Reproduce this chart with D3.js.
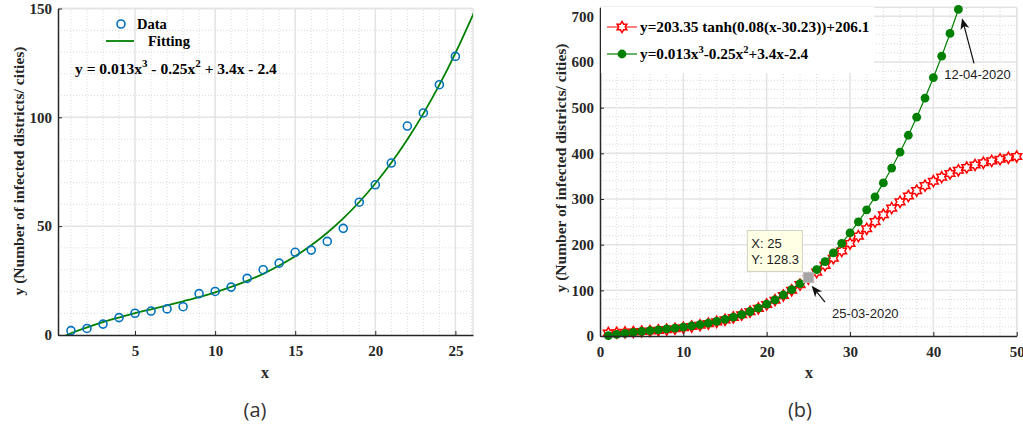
<!DOCTYPE html>
<html><head><meta charset="utf-8">
<script src="https://cdn.jsdelivr.net/npm/d3@7"></script>
<style>
html,body{margin:0;padding:0;background:#fff;}
svg{display:block;}
</style></head>
<body>
<script>
// ---------- DATA ----------
const daysA = [1,2,3,4,5,6,7,8,9,10,11,12,13,14,15,16,17,18,19,20,21,22,23,24,25];
const casesA = [2,3,5,8,10,11,12,13,19,20,22,26,30,33,38,39,43,49,61,69,79,96,102,115,128];
const fitXA = [0.5,1,2,3,4,5,6,7,8,9,10,11,12,13,14,15,16,17,18,19,20,21,22,23,24,25,26,26.1];
const fitYA = [-0.8,0.8,3.5,5.9,8.0,10.0,11.8,13.6,15.5,17.4,19.6,22.1,24.9,28.1,31.9,36.2,41.2,47.0,53.6,61.1,69.6,79.1,89.8,101.7,114.9,129.5,145.5,147.2];
const xTicksA = [5,10,15,20,25];
const yTicksA = [0,50,100,150];

const daysB = [1,2,3,4,5,6,7,8,9,10,11,12,13,14,15,16,17,18,19,20,21,22,23,24,25,26,27,28,29,30,31,32,33,34,35,36,37,38,39,40,41,42,43,44,45,46,47,48,49,50];
const tanhFitB = [6.5,7.1,7.9,8.8,9.8,11.0,12.4,14.0,15.9,18.1,20.7,23.6,27.0,31.0,35.4,40.6,46.5,53.1,60.6,69.0,78.4,88.7,100.1,112.4,125.7,139.8,154.7,170.2,186.2,202.4,218.6,234.7,250.4,265.6,280.1,293.8,306.6,318.4,329.2,339.0,347.9,355.8,362.8,369.0,374.5,379.3,383.4,387.1,390.2,393.0];
const cubicDaysB = [1,2,3,4,5,6,7,8,9,10,11,12,13,14,15,16,17,18,19,20,21,22,23,24,25,26,27,28,29,30,31,32,33,34,35,36,37,38,39,40,41,42,43];
const cubicFitB = [0.8,3.5,5.9,8.0,10.0,11.8,13.6,15.5,17.4,19.6,22.1,24.9,28.1,31.9,36.2,41.2,47.0,53.6,61.1,69.6,79.1,89.8,101.7,114.9,128.3,145.5,163.0,182.2,203.0,225.6,250.0,276.4,304.7,335.2,367.7,402.5,439.6,479.1,521.1,565.6,612.7,662.5,715.1];
const xTicksB = [0,10,20,30,40,50];
const yTicksB = [0,100,200,300,400,500,600,700];
const legendB = ["y=203.35 tanh(0.08(x-30.23))+206.1"];
const tipX = 25, tipY = 128.3;

// ---------- SETUP ----------
const W = 1023, H = 429;
const svg = d3.select("body").append("svg").attr("width", W).attr("height", H);
const serif = "'Liberation Serif','Times New Roman',serif";
const sans = "'Liberation Sans',Arial,sans-serif";
const defs = svg.append("defs");

function hexagram(r){
  const ri = r/Math.sqrt(3);
  const pts = [];
  for(let i=0;i<12;i++){
    const a = -Math.PI/2 + i*Math.PI/6;
    const rr = i%2===0 ? r : ri;
    pts.push([rr*Math.cos(a), rr*Math.sin(a)]);
  }
  return "M"+pts.map(p=>p[0].toFixed(2)+","+p[1].toFixed(2)).join("L")+"Z";
}

function drawGrid(g, x, y, minorX, minorY, majorX, majorY){
  const [x0,x1] = x.range(), [y0,y1] = y.range();
  g.selectAll(".mx").data(minorX).enter().append("line")
    .attr("x1",d=>x(d)).attr("x2",d=>x(d)).attr("y1",y0).attr("y2",y1)
    .attr("stroke","#d0d0d0").attr("stroke-width",0.8).attr("stroke-dasharray","1,2");
  g.selectAll(".my").data(minorY).enter().append("line")
    .attr("y1",d=>y(d)).attr("y2",d=>y(d)).attr("x1",x0).attr("x2",x1)
    .attr("stroke","#d0d0d0").attr("stroke-width",0.8).attr("stroke-dasharray","1,2");
  g.selectAll(".Mx").data(majorX).enter().append("line")
    .attr("x1",d=>x(d)).attr("x2",d=>x(d)).attr("y1",y0).attr("y2",y1)
    .attr("stroke","#e3e3e3").attr("stroke-width",1.5);
  g.selectAll(".My").data(majorY).enter().append("line")
    .attr("y1",d=>y(d)).attr("y2",d=>y(d)).attr("x1",x0).attr("x2",x1)
    .attr("stroke","#e3e3e3").attr("stroke-width",1.5);
  g.append("line").attr("x1",x0).attr("x2",x1).attr("y1",y1).attr("y2",y1).attr("stroke","#e3e3e3").attr("stroke-width",1.5);
  g.append("line").attr("x1",x1).attr("x2",x1).attr("y1",y0).attr("y2",y1).attr("stroke","#e3e3e3").attr("stroke-width",1.5);
}

function drawAxes(g, x, y, xt, yt){
  const [x0] = x.range(), [y0] = y.range();
  const ax = g.append("g").attr("transform",`translate(0,${y0})`)
    .call(d3.axisBottom(x).tickValues(xt).tickSize(-4).tickPadding(10).tickSizeOuter(0));
  const ay = g.append("g").attr("transform",`translate(${x0},0)`)
    .call(d3.axisLeft(y).tickValues(yt).tickSize(-4).tickPadding(6).tickSizeOuter(0));
  [ax,ay].forEach(a=>{
    a.select(".domain").attr("stroke","#262626").attr("stroke-width",1.5);
    a.selectAll(".tick line").attr("stroke","#262626").attr("stroke-width",1);
    a.selectAll(".tick text").attr("fill","#262626").style("font-family",serif)
      .style("font-size","15px").style("font-weight","bold");
  });
}

function yLabel(xpos, ypos){
  svg.append("text").attr("transform",`translate(${xpos},${ypos}) rotate(-90)`)
    .attr("text-anchor","middle").attr("dy","0.35em")
    .style("font-family",serif).style("font-size","15.5px").style("font-weight","bold").attr("fill","#262626")
    .text("y (Number of infected districts/ cities)");
}
function xLabel(xpos, ypos){
  svg.append("text").attr("x",xpos).attr("y",ypos).attr("text-anchor","middle").attr("dy","0.35em")
    .style("font-family",serif).style("font-size","16px").style("font-weight","bold").attr("fill","#262626")
    .text("x");
}

// ---------- PANEL A ----------
const xA = d3.scaleLinear().domain([0.19,26.1]).range([58,473]);
const yA = d3.scaleLinear().domain([0,150]).range([335,8.5]);
const gA = svg.append("g");
drawGrid(gA, xA, yA,
  d3.range(1,27).filter(v=>v%5!==0), d3.range(10,150,10).filter(v=>v%50!==0),
  xTicksA, yTicksA.filter(v=>v>0));
defs.append("clipPath").attr("id","clipA").append("rect").attr("x",58).attr("y",8.5).attr("width",415).attr("height",326.5);
const lineA = d3.line().x((d,i)=>xA(fitXA[i])).y(d=>yA(d)).curve(d3.curveNatural);
gA.append("path").datum(fitYA).attr("d",lineA).attr("fill","none")
  .attr("stroke","#008000").attr("stroke-width",1.8).attr("clip-path","url(#clipA)");
gA.selectAll(".ptA").data(casesA).enter().append("circle")
  .attr("cx",(d,i)=>xA(daysA[i])).attr("cy",d=>yA(d)).attr("r",4)
  .attr("fill","none").attr("stroke","#0072BD").attr("stroke-width",1.6);
drawAxes(gA, xA, yA, xTicksA, yTicksA);
// legend A
gA.append("circle").attr("cx",121).attr("cy",24).attr("r",4).attr("fill","none").attr("stroke","#0072BD").attr("stroke-width",1.6);
gA.append("text").attr("x",137).attr("y",24).attr("dy","0.35em").style("font-family",serif).style("font-size","14.5px").style("font-weight","bold").text("Data");
gA.append("line").attr("x1",106).attr("x2",134).attr("y1",41).attr("y2",41).attr("stroke","#008000").attr("stroke-width",1.8);
gA.append("text").attr("x",148).attr("y",41).attr("dy","0.35em").style("font-family",serif).style("font-size","14.5px").style("font-weight","bold").text("Fitting");
{
  const t = gA.append("text").attr("x",75).attr("y",74).style("font-family",serif).style("font-size","15.5px").style("font-weight","bold");
  t.append("tspan").text("y = 0.013x");
  t.append("tspan").attr("dy",-7).style("font-size","11px").text("3");
  t.append("tspan").attr("dy",7).text(" - 0.25x");
  t.append("tspan").attr("dy",-7).style("font-size","11px").text("2");
  t.append("tspan").attr("dy",7).text(" + 3.4x - 2.4");
}
yLabel(19, 171);
xLabel(265, 372);
svg.append("text").attr("x",255).attr("y",410).attr("text-anchor","middle").attr("dy","0.35em")
  .style("font-family","'Open Sans',sans-serif").style("font-size","20px").attr("fill","#333").text("(a)");

// ---------- PANEL B ----------
const xB = d3.scaleLinear().domain([0,50]).range([600,1016.7]);
const yB = d3.scaleLinear().domain([0,720]).range([336,7.2]);
const gB = svg.append("g");
drawGrid(gB, xB, yB,
  d3.range(2,50,2).filter(v=>v%10!==0), d3.range(20,720,20).filter(v=>v%100!==0),
  xTicksB.filter(v=>v>0), yTicksB.filter(v=>v>0));
const lineR = d3.line().x((d,i)=>xB(daysB[i])).y(d=>yB(d));
const lineG = d3.line().x((d,i)=>xB(cubicDaysB[i])).y(d=>yB(d));
gB.append("path").datum(tanhFitB).attr("d",lineR).attr("fill","none").attr("stroke","#ff0000").attr("stroke-width",1);
gB.selectAll(".hx").data(tanhFitB).enter().append("path")
  .attr("d",hexagram(5.6)).attr("transform",(d,i)=>`translate(${xB(daysB[i])},${yB(d)})`)
  .attr("fill","#fff").attr("stroke","#ff0000").attr("stroke-width",1.5);
gB.append("path").datum(cubicFitB).attr("d",lineG).attr("fill","none").attr("stroke","#008000").attr("stroke-width",1.2);
gB.selectAll(".gc").data(cubicFitB).enter().append("circle")
  .attr("cx",(d,i)=>xB(cubicDaysB[i])).attr("cy",d=>yB(d)).attr("r",4.4).attr("fill","#008000");
drawAxes(gB, xB, yB, xTicksB, yTicksB);

// legend B
gB.append("rect").attr("x",601).attr("y",7).attr("width",273).attr("height",66).attr("fill","#fff");
gB.append("line").attr("x1",607).attr("x2",637).attr("y1",27).attr("y2",27).attr("stroke","#ff0000").attr("stroke-width",1);
gB.append("path").attr("d",hexagram(5.6)).attr("transform","translate(622,27)").attr("fill","#fff").attr("stroke","#ff0000").attr("stroke-width",1.5);
gB.append("text").attr("x",640).attr("y",27).attr("dy","0.35em").style("font-family",serif).style("font-size","15.3px").style("font-weight","bold").text(legendB[0]);
gB.append("line").attr("x1",607).attr("x2",637).attr("y1",54).attr("y2",54).attr("stroke","#008000").attr("stroke-width",1.2);
gB.append("circle").attr("cx",622).attr("cy",54).attr("r",4.4).attr("fill","#008000");
{
  const t = gB.append("text").attr("x",640).attr("y",54).attr("dy","0.35em").style("font-family",serif).style("font-size","15.3px").style("font-weight","bold");
  t.append("tspan").text("y=0.013x");
  t.append("tspan").attr("dy",-6).style("font-size","10.5px").text("3");
  t.append("tspan").attr("dy",6).text("-0.25x");
  t.append("tspan").attr("dy",-6).style("font-size","10.5px").text("2");
  t.append("tspan").attr("dy",6).text("+3.4x-2.4");
}

// datatip
const px = xB(tipX), py = yB(tipY);
gB.append("rect").attr("x",px-61).attr("y",py-47).attr("width",55).attr("height",41)
  .attr("fill","#ffffe6").attr("stroke","#d0d0c0").attr("stroke-width",1);
gB.append("text").attr("x",px-57).attr("y",py-29).style("font-family",sans).style("font-size","13px").attr("fill","#222").text("X: " + tipX);
gB.append("text").attr("x",px-57).attr("y",py-13).style("font-family",sans).style("font-size","13px").attr("fill","#222").text("Y: " + tipY);
gB.append("rect").attr("x",px-5).attr("y",py-5).attr("width",10).attr("height",10).attr("fill","#a5a5a5").attr("stroke","#bbb");

// arrows
function arrow(x1,y1,x2,y2){
  const ang = Math.atan2(y2-y1,x2-x1), L=11, Wd=4.5, back=3;
  const bx = x2 - L*Math.cos(ang), by = y2 - L*Math.sin(ang);
  const nx = -Math.sin(ang), ny = Math.cos(ang);
  const mx = x2 - (L-back)*Math.cos(ang), my = y2 - (L-back)*Math.sin(ang);
  gB.append("line").attr("x1",x1).attr("y1",y1).attr("x2",mx).attr("y2",my).attr("stroke","#111").attr("stroke-width",1.2);
  gB.append("path").attr("d",`M${x2},${y2}L${bx+nx*Wd},${by+ny*Wd}L${mx},${my}L${bx-nx*Wd},${by-ny*Wd}Z`).attr("fill","#111");
}
arrow(xB(27.0), yB(74), xB(25.4), yB(110));
gB.append("text").attr("x",xB(27.85)).attr("y",318).style("font-family",sans).style("font-size","13px").attr("fill","#222").text("25-03-2020");
arrow(xB(44.88), yB(597), xB(43.44), yB(696));
gB.append("text").attr("x",xB(41.3)).attr("y",79).style("font-family",sans).style("font-size","13px").attr("fill","#222").text("12-04-2020");

yLabel(561, 168);
xLabel(809, 372);
svg.append("text").attr("x",800).attr("y",410).attr("text-anchor","middle").attr("dy","0.35em")
  .style("font-family","'Open Sans',sans-serif").style("font-size","20px").attr("fill","#333").text("(b)");
</script>
</body></html>
